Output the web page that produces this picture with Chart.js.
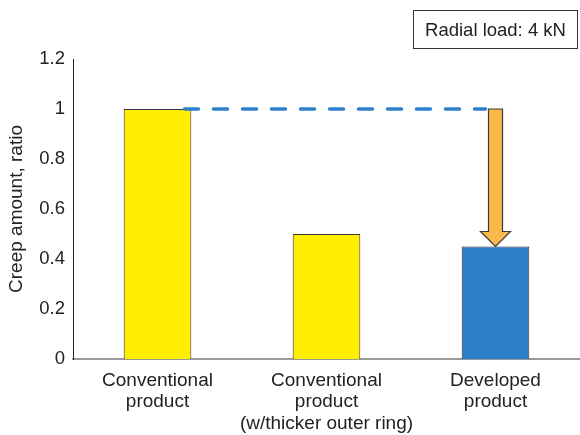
<!DOCTYPE html>
<html>
<head>
<meta charset="utf-8">
<script src="https://cdn.jsdelivr.net/npm/chart.js@4/dist/chart.umd.min.js"></script>
<style>
  html, body { margin: 0; padding: 0; background: #fff; }
  #wrap { position: relative; width: 580px; height: 435px; }
  #note {
    position: absolute; left: 413px; top: 10px; width: 165px; height: 39px;
    border: 1px solid #333; box-sizing: border-box;
    font: 18.5px "Liberation Sans", Arial, sans-serif; color: #222;
    display: flex; align-items: center; justify-content: center;
  }
</style>
</head>
<body>
<div id="wrap">
  <canvas id="c" width="580" height="435"></canvas>
  <div id="note">Radial load: 4 kN</div>
</div>
<script>
// Products compared
const categories = [
  ["Conventional", "product"],
  ["Conventional", "product", "(w/thicker outer ring)"],
  ["Developed", "product"]
];
// Creep amount relative to the conventional product
const creepRatio = [1.0, 0.5, 0.45];
const barColors = ["#FFEE00", "#FFEE00", "#2A7FC7"];
const yTicks = [0, 0.2, 0.4, 0.6, 0.8, 1, 1.2];

// Reference line at the conventional level and a downward arrow to the developed product
const reductionMarker = {
  id: "reductionMarker",
  afterDatasetsDraw(chart) {
    const { ctx, scales } = chart;
    const y = scales.y;
    const meta = chart.getDatasetMeta(0);
    const b0 = meta.data[0], b2 = meta.data[2];
    const yTop = y.getPixelForValue(creepRatio[0]);
    const yEnd = y.getPixelForValue(creepRatio[2]);
    const ax = b2.x;
    const shaftHalf = 7, headHalf = 15, headLen = 15;

    ctx.save();
    // dashed level line
    ctx.strokeStyle = "#2E80CC";
    ctx.lineWidth = 3.5;
    ctx.lineCap = "round";
    ctx.setLineDash([14, 15]);
    ctx.beginPath();
    ctx.moveTo(b0.x + 27, yTop);
    ctx.lineTo(ax - shaftHalf - 3, yTop);
    ctx.stroke();
    ctx.setLineDash([]);

    // arrow
    ctx.fillStyle = "#F9B84A";
    ctx.strokeStyle = "#3a3a3a";
    ctx.lineWidth = 1.2;
    ctx.lineCap = "butt";
    ctx.lineJoin = "miter";
    ctx.beginPath();
    ctx.moveTo(ax - shaftHalf, yTop);
    ctx.lineTo(ax + shaftHalf, yTop);
    ctx.lineTo(ax + shaftHalf, yEnd - headLen);
    ctx.lineTo(ax + headHalf, yEnd - headLen);
    ctx.lineTo(ax, yEnd);
    ctx.lineTo(ax - headHalf, yEnd - headLen);
    ctx.lineTo(ax - shaftHalf, yEnd - headLen);
    ctx.closePath();
    ctx.fill();
    ctx.stroke();
    ctx.restore();
  }
};

Chart.defaults.font.family = '"Liberation Sans", Arial, sans-serif';
Chart.defaults.color = "#222";

new Chart(document.getElementById("c"), {
  type: "bar",
  data: {
    labels: categories,
    datasets: [{
      data: creepRatio,
      backgroundColor: barColors,
      borderColor: "#333",
      borderWidth: 1,
      barPercentage: 0.4,
      categoryPercentage: 1.0
    }]
  },
  options: {
    responsive: false,
    animation: false,
    layout: { padding: { top: 59, right: -3, left: 0, bottom: 0 } },
    plugins: { legend: { display: false }, tooltip: { enabled: false } },
    scales: {
      x: {
        afterFit(axis) { axis.height = 76; },
        grid: { display: false, drawTicks: false },
        border: { color: "#999", width: 2 },
        ticks: { font: { size: 19, lineHeight: 1.13 }, padding: 11, maxRotation: 0, autoSkip: false, color: "#222" }
      },
      y: {
        min: 0, max: 1.2,
        afterBuildTicks(axis) { axis.ticks = yTicks.map(v => ({ value: v })); },
        afterFit(axis) { axis.width = 73; },
        grid: { display: false, drawTicks: false },
        border: { color: "#222", width: 1 },
        ticks: { font: { size: 18.5 }, padding: 8, color: "#222", callback: v => String(v) },
        title: { display: true, text: "Creep amount, ratio", font: { size: 19 }, color: "#222", padding: { top: 5, bottom: 0 } }
      }
    }
  },
  plugins: [reductionMarker]
});
</script>
</body>
</html>
